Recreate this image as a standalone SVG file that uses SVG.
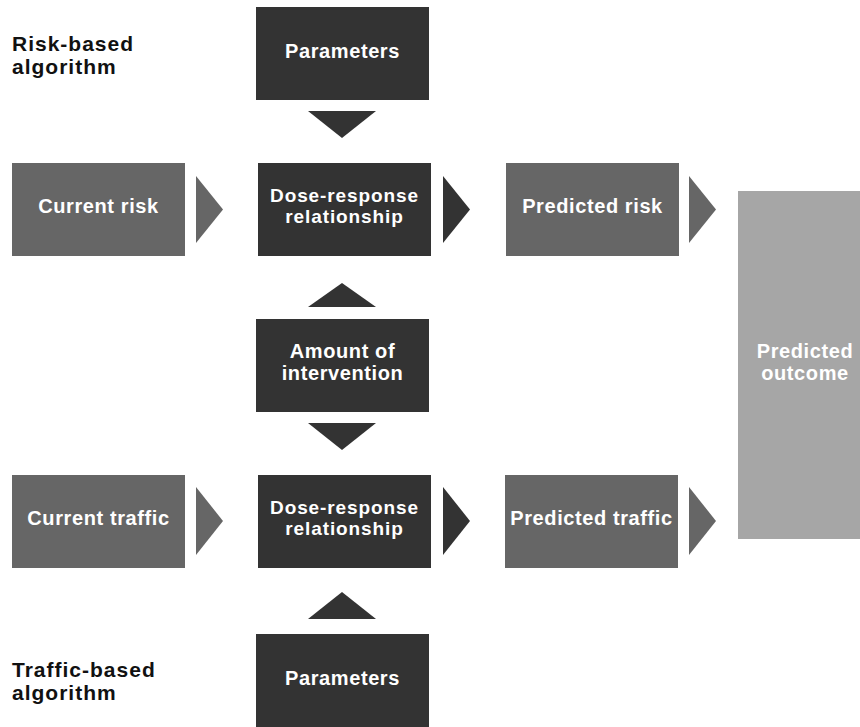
<svg xmlns="http://www.w3.org/2000/svg" width="860" height="727" viewBox="0 0 860 727">
<style>
.dark{fill:#333333}
.mid{fill:#666666}
.light{fill:#a6a6a6}
.t{font-family:"Liberation Sans",Arial,sans-serif;font-weight:bold;font-size:20px;fill:#ffffff;text-anchor:middle;letter-spacing:0.6px}
.s{font-size:19px;letter-spacing:0.9px}
.h{font-family:"Liberation Sans",Arial,sans-serif;font-weight:bold;font-size:21px;fill:#111111;letter-spacing:1px}
</style>
<rect width="860" height="727" fill="#ffffff"/>
<g id="label-risk"><text class="h" x="12" y="51">Risk-based</text><text class="h" x="12" y="74">algorithm</text></g>
<g id="label-traffic"><text class="h" x="12" y="677">Traffic-based</text><text class="h" x="12" y="700">algorithm</text></g>
<g id="params-top"><rect class="dark" x="256" y="7" width="173" height="93"/><text class="t" x="342.5" y="58">Parameters</text></g>
<g id="current-risk"><rect class="mid" x="12" y="163" width="173" height="93"/><text class="t" x="98.5" y="213">Current risk</text></g>
<g id="dose-risk"><rect class="dark" x="258" y="163" width="173" height="93"/><text class="t s" x="344.5" y="202">Dose-response</text><text class="t s" x="344.5" y="223">relationship</text></g>
<g id="predicted-risk"><rect class="mid" x="506" y="163" width="173" height="93"/><text class="t" x="592.5" y="213">Predicted risk</text></g>
<g id="amount"><rect class="dark" x="256" y="319" width="173" height="93"/><text class="t" x="342.5" y="358">Amount of</text><text class="t" x="342.5" y="380">intervention</text></g>
<g id="predicted-outcome"><rect class="light" x="738" y="191" width="132" height="348"/><text class="t" x="805" y="358">Predicted</text><text class="t" x="805" y="380">outcome</text></g>
<g id="current-traffic"><rect class="mid" x="12" y="475" width="173" height="93"/><text class="t" x="98.5" y="525">Current traffic</text></g>
<g id="dose-traffic"><rect class="dark" x="258" y="475" width="173" height="93"/><text class="t s" x="344.5" y="514">Dose-response</text><text class="t s" x="344.5" y="535">relationship</text></g>
<g id="predicted-traffic"><rect class="mid" x="505" y="475" width="173" height="93"/><text class="t" x="591.5" y="525">Predicted traffic</text></g>
<g id="params-bottom"><rect class="dark" x="256" y="634" width="173" height="93"/><text class="t" x="342.5" y="685">Parameters</text></g>
<g id="connectors">
<polygon class="dark" points="308,111 376,111 342,138"/>
<polygon class="mid" points="196,176 223,209.5 196,243"/>
<polygon class="dark" points="443,176 470,209.5 443,243"/>
<polygon class="mid" points="689,176 716,209.5 689,243"/>
<polygon class="dark" points="308,307 376,307 342,283"/>
<polygon class="dark" points="308,423 376,423 342,450"/>
<polygon class="mid" points="196,487 223,521 196,555"/>
<polygon class="dark" points="443,487 470,521 443,555"/>
<polygon class="mid" points="689,487 716,521 689,555"/>
<polygon class="dark" points="308,619 376,619 342,592"/>
</g>
</svg>
